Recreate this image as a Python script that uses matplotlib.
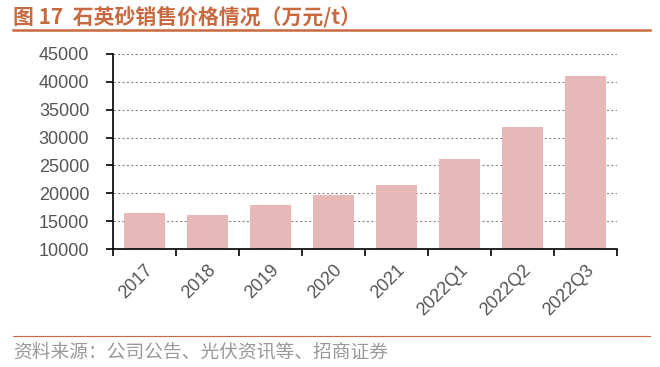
import matplotlib.pyplot as plt
from matplotlib.lines import Line2D

# data
periods = ["2017", "2018", "2019", "2020", "2021", "2022Q1", "2022Q2", "2022Q3"]
prices = [16500, 16100, 17850, 19650, 21450, 26200, 31950, 41050]
yticks = [10000, 15000, 20000, 25000, 30000, 35000, 40000, 45000]

orange = "#C8693F"
plt.rcParams['font.family'] = ['Liberation Sans', 'Noto Sans CJK SC', 'DejaVu Sans']

fig = plt.figure(figsize=(6.6, 3.67), dpi=100)
ax = fig.add_axes([0.171, 0.3215, 0.764, 0.5315])

x = range(len(periods))
ax.bar(x, prices, width=0.65, color="#E6B9B8", zorder=2)

ax.set_ylim(10000, 45000)
ax.set_yticks(yticks)
ax.set_xlim(-0.5, len(periods) - 0.5)
ax.set_xticks([i - 0.5 for i in range(len(periods) + 1)])
ax.set_xticklabels([])
ax.set_xticks(list(x), minor=True)
ax.set_xticklabels(periods, minor=True, rotation=45, ha="right", rotation_mode="anchor",
                   fontsize=13, color="#555555")
ax.tick_params(axis="x", which="minor", length=0, pad=9)
ax.tick_params(axis="x", which="major", length=5, width=1.2, direction="out")
ax.tick_params(axis="y", length=5, width=1.2, direction="out", labelsize=13,
               labelcolor="#555555", pad=12)

for spine in ["top", "right"]:
    ax.spines[spine].set_visible(False)
ax.spines["left"].set_linewidth(1.2)
ax.spines["bottom"].set_linewidth(1.2)

ax.yaxis.grid(True, linestyle=(0, (2, 2)), color="#888888", linewidth=0.8, zorder=0)

# header and footer
fig.text(13 / 660, 1 - 17 / 367, "图 17  石英砂销售价格情况（万元/t）", color=orange,
         fontsize=15, fontweight="bold", va="center", ha="left",
         family=['Noto Sans CJK SC', 'DejaVu Sans'])
fig.add_artist(Line2D([13 / 660, 650 / 660], [1 - 30 / 367, 1 - 30 / 367],
                      color=orange, linewidth=1.8, transform=fig.transFigure))
fig.add_artist(Line2D([13 / 660, 650 / 660], [1 - 336 / 367, 1 - 336 / 367],
                      color=orange, linewidth=0.8, transform=fig.transFigure))
fig.text(13 / 660, 1 - 352 / 367, "资料来源：公司公告、光伏资讯等、招商证券", color="#999999",
         fontsize=13.5, va="center", ha="left", family=['Noto Sans CJK SC', 'DejaVu Sans'])

fig.savefig("out.png", dpi=100)
